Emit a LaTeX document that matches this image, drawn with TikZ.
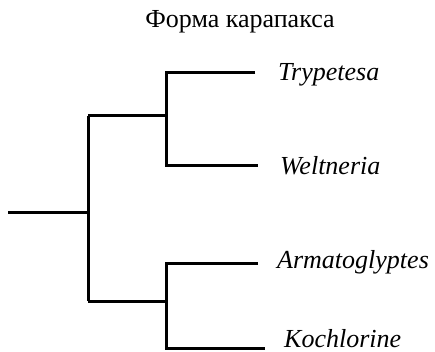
\documentclass[tikz,border=0pt]{standalone}
\usepackage{fontspec}
\setmainfont{Liberation Serif}
\begin{document}
\begin{tikzpicture}[x=1pt,y=-1pt,
  branch/.style={line width=3pt, line join=miter},
  taxon/.style={anchor=base west, inner sep=0pt, font=\fontsize{26}{30}\selectfont\itshape},
  heading/.style={anchor=base, inner sep=0pt, font=\fontsize{26}{30}\selectfont}]
\useasboundingbox (0,0) rectangle (435,352);
\node[heading] (title) at (240,28) {Форма карапакса};
% internal coordinates
\coordinate (rootL) at (8,212);
\coordinate (root) at (88,212);
\coordinate (upA) at (88,116);
\coordinate (loA) at (88,301);
\coordinate (upB) at (166,116);
\coordinate (loB) at (166,301);
\coordinate (u1) at (166,73);
\coordinate (u2) at (166,166);
\coordinate (l1) at (166,263);
\coordinate (l2) at (166,348);
\coordinate (e1) at (255,73);
\coordinate (e2) at (258,166);
\coordinate (e3) at (258,263);
\coordinate (e4) at (265,348);
% taxa
\node[taxon] (tryp) at (278,81) {Trypetesa};
\node[taxon] (welt) at (280,175) {Weltneria};
\node[taxon] (arma) at (277,268) {Armatoglyptes};
\node[taxon] (koch) at (284,347) {Kochlorine};
% branches
\draw[branch] (rootL) -- (root);
\draw[branch] (upA) -- (loA);
\draw[branch] (upA) -- (upB);
\draw[branch] (loA) -- (loB);
\draw[branch] (e1) -- (u1) -- (u2) -- (e2);
\draw[branch] (e3) -- (l1) -- (l2) -- (e4);
\end{tikzpicture}
\end{document}
